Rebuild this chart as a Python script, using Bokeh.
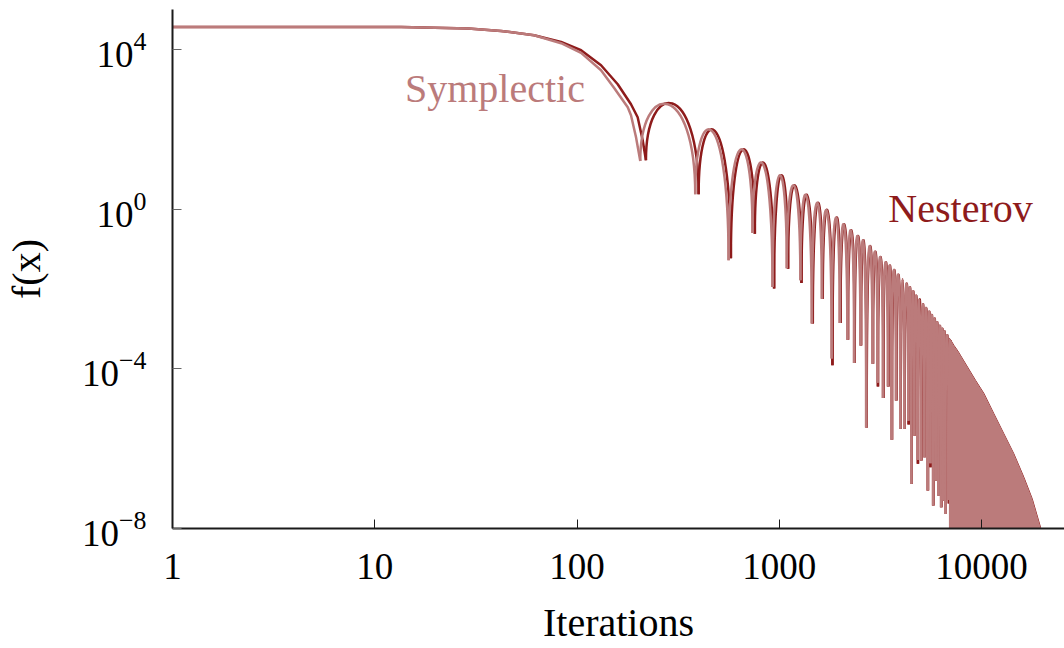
import math
from bokeh.plotting import figure
from bokeh.models import Range1d, FixedTicker, BasicTickFormatter, Label, ColumnDataSource
from bokeh.embed import file_html
from bokeh.resources import INLINE

# ---------------- data ----------------
x_ticks = [1, 10, 100, 1000, 10000]
y_ticks = [1e-8, 1e-4, 1, 1e4]

# smooth plateau + first descent (before the first minimum)
nes_head_iter = [1, 13.5, 29, 42.1, 61.3, 83.4, 104.7, 131.4, 158.9, 184.8, 199.4, 211.1, 219.1]
nes_head_f = [36700, 36500, 33400, 29100, 22700, 15400, 9550, 4020, 1343, 423, 200, 53.0, 16.7]
sym_head_iter = [1, 13.5, 29, 42.1, 61.3, 83.4, 104.7, 131.4, 152.9, 178.1, 184.8, 195.6, 203.0, 205.4]
sym_head_f = [36700, 36500, 33400, 29100, 22700, 14300, 8170, 3013, 1066, 356, 224, 64.1, 22.3, 16.1]

# oscillation minima (iteration, value) and the maxima between them
nes_min_iter = [219.1, 399.1, 576.2, 756.9, 942.5, 1105, 1287, 1464, 1640, 1831, 2006, 2186, 2359,
                2535, 2704, 2905, 3074, 3270, 3461, 3606, 3791, 3981, 4166, 4360, 4511, 4668, 4846,
                5038, 5230, 5430, 5599, 5774, 5947, 6133, 6324, 6477, 6641, 6894, 7166]
nes_min_f = [16.7, 2.35, 0.0585, 0.243, 0.0102, 0.0323, 0.0141, 0.00137, 0.00572, 1.22e-4, 0.0014,
             5.36e-4, 1.39e-4, 3.86e-4, 3.4e-6, 1.34e-4, 3.62e-5, 1.85e-5, 3.62e-5, 1.67e-6, 1.61e-5,
             3.16e-6, 3.16e-6, 4.05e-6, 1.32e-7, 2.14e-6, 4.19e-7, 5.06e-7, 6.12e-7, 8.95e-8, 3.44e-7,
             3.77e-8, 1.6e-7, 6.7e-8, 3.4e-8, 5.0e-8, 2.3e-8, 4.2e-8, 5e-9]
nes_max_f = [441, 90.6, 31.0, 13.8, 7.03, 3.95, 2.22, 1.42, 0.895, 0.598, 0.416, 0.294, 0.212, 0.151,
             0.112, 0.0851, 0.0631, 0.0465, 0.0369, 0.0292, 0.0225, 0.0174, 0.0136, 0.0105, 0.00845,
             0.00671, 0.00548, 0.00416, 0.00327, 0.00267, 0.00218, 0.0018, 0.00146, 0.00119, 0.00101,
             8.65e-4, 6.9e-4, 4.9e-4]

sym_min_iter = [205.4, 384.0, 561.3, 737.3, 925.5, 1089, 1271, 1448, 1624, 1815, 1990, 2170, 2343,
                2519, 2688, 2889, 3058, 3254, 3445, 3590, 3775, 3965, 4150, 4344, 4495, 4652, 4830,
                5022, 5214, 5414, 5583, 5758, 5931, 6117, 6308, 6461, 6625, 6878, 7150]
sym_min_f = [16.1, 2.35, 0.0521, 0.252, 0.0112, 0.0328, 0.0165, 0.00137, 0.00572, 1.8e-4, 0.0014,
             5.36e-4, 1.39e-4, 3.86e-4, 3.4e-6, 1.34e-4, 4.5e-5, 1.85e-5, 3.62e-5, 1.67e-6, 1.61e-5,
             3.16e-6, 3.16e-6, 5.0e-6, 1.32e-7, 2.14e-6, 5.2e-7, 5.06e-7, 6.12e-7, 8.95e-8, 4.3e-7,
             3.77e-8, 1.6e-7, 6.7e-8, 3.4e-8, 5.0e-8, 2.3e-8, 5.2e-8, 5e-9]
sym_max_f = [423, 90.6, 31.0, 13.8, 7.03, 3.95, 2.22, 1.42, 0.895, 0.598, 0.416, 0.294, 0.212, 0.151,
             0.112, 0.0851, 0.0631, 0.0465, 0.0369, 0.0292, 0.0225, 0.0174, 0.0136, 0.0105, 0.00845,
             0.00671, 0.00548, 0.00416, 0.00327, 0.00267, 0.00218, 0.0018, 0.00146, 0.00119, 0.00101,
             8.65e-4, 6.9e-4, 4.9e-4]

# upper envelope of the dense (unresolved) oscillation band
band_iter = [6894, 6974, 7298, 7637, 9340, 10265, 11501, 12886, 14437, 16176, 17803, 19559, 20000]
band_f = [5.9e-4, 5.67e-4, 3.86e-4, 2.78e-4, 5.12e-5, 2.42e-5, 7.5e-6, 2.36e-6, 7.44e-7,
          1.93e-7, 5.54e-8, 1.08e-8, 6e-9]

SYM = "#bb7b7b"
NES = "#8e1b1b"
FONT = "Liberation Serif"


def arch_source(min_iter, min_f, max_f):
    x0, x1 = min_iter[:-1], min_iter[1:]
    y0, y1 = min_f[:-1], min_f[1:]
    cy = [10 ** ((math.log10(m) - (math.log10(a) + math.log10(b)) / 8) / 0.75)
          for m, a, b in zip(max_f, y0, y1)]
    return ColumnDataSource(dict(x0=x0, y0=y0, x1=x1, y1=y1, cx0=x0, cy0=cy, cx1=x1, cy1=cy))


p = figure(width=1064, height=648, x_axis_type="log", y_axis_type="log",
           x_range=Range1d(1, 25700), y_range=Range1d(1e-8, 1e5),
           output_backend="svg", toolbar_location=None,
           min_border_left=171, min_border_right=0, min_border_top=9, min_border_bottom=120)
p.outline_line_color = None
p.xgrid.visible = False
p.ygrid.visible = False
p.background_fill_color = "white"
p.border_fill_color = "white"

# Nesterov (underneath)
p.line(nes_head_iter, nes_head_f, line_color=NES, line_width=2.5, line_join="round")
p.bezier(x0="x0", y0="y0", x1="x1", y1="y1", cx0="cx0", cy0="cy0", cx1="cx1", cy1="cy1",
         source=arch_source(nes_min_iter, nes_min_f, nes_max_f), line_color=NES, line_width=2.5)
p.line(band_iter, band_f, line_color=NES, line_width=1.0)

# Symplectic (on top)
p.line(sym_head_iter, sym_head_f, line_color=SYM, line_width=2.5, line_join="round")
p.bezier(x0="x0", y0="y0", x1="x1", y1="y1", cx0="cx0", cy0="cy0", cx1="cx1", cy1="cy1",
         source=arch_source(sym_min_iter, sym_min_f, sym_max_f), line_color=SYM, line_width=2.5)
p.varea(x=band_iter, y1=band_f, y2=1e-10, fill_color=SYM)

# axes
for ax in (p.xaxis[0], p.yaxis[0]):
    ax.axis_line_width = 2
    ax.axis_line_color = "#1a1a1a"
    ax.major_tick_in = 9
    ax.major_tick_out = 0
    ax.major_tick_line_width = 1
    ax.minor_tick_line_color = None
    ax.major_label_text_font = FONT
    ax.major_label_text_font_size = "37px"
    ax.major_label_text_color = "black"
    ax.axis_label_text_font = FONT
    ax.axis_label_text_font_size = "40px"
    ax.axis_label_text_font_style = "normal"
    ax.axis_label_text_color = "black"

p.xaxis.ticker = FixedTicker(ticks=x_ticks)
p.xaxis.formatter = BasicTickFormatter(use_scientific=False)
p.xaxis.major_tick_line_color = "#1a1a1a"
p.xaxis.major_label_standoff = 25
p.xaxis.axis_label = "Iterations"
p.xaxis.axis_label_standoff = 18
p.xaxis.axis_label_text_line_height = 0.75

p.yaxis.ticker = FixedTicker(ticks=y_ticks)
p.yaxis.major_tick_line_color = "#666666"
p.yaxis.major_label_standoff = 26
p.yaxis.axis_label = "f(x)"
p.yaxis.axis_label_standoff = 30

# series labels
p.add_layout(Label(x=14.1, y=1022, text="Symplectic", text_font=FONT, text_font_size="40px",
                   text_color=SYM, text_align="left", text_baseline="alphabetic"))
p.add_layout(Label(x=3460, y=1.065, text="Nesterov", text_font=FONT, text_font_size="40px",
                   text_color=NES, text_align="left", text_baseline="alphabetic"))

open("out.html", "w").write(file_html(p, INLINE))
